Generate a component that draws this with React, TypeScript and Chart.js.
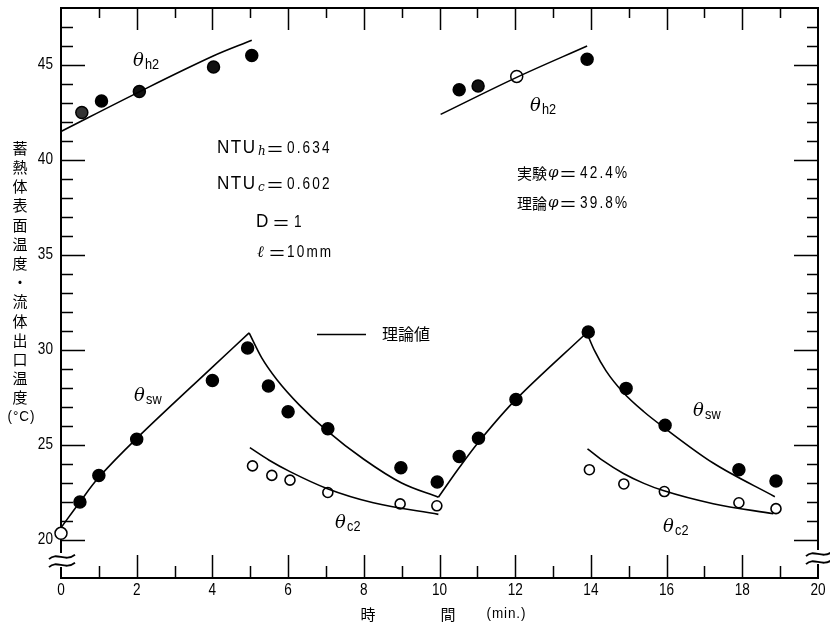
import React, { useEffect, useRef } from "react";
import { Chart, registerables } from "chart.js";

Chart.register(...registerables);

// ---- measured values ----
const swTime = [0, 0.5, 1, 2, 4, 4.93, 5.48, 6.0, 7.05, 8.98, 9.94, 10.52, 11.03, 12.02, 13.93, 14.93, 15.96, 17.91, 18.89];
const swTemp = [20.35, 22.0, 23.4, 25.3, 28.4, 30.1, 28.1, 26.75, 25.85, 23.8, 23.05, 24.4, 25.35, 27.4, 30.95, 27.98, 26.04, 23.7, 23.1];
const swFill = ["#ffffff", "#000", "#000", "#000", "#000", "#000", "#000", "#000", "#000", "#000", "#000", "#000", "#000", "#000", "#000", "#000", "#000", "#000", "#000"];

const c2Time = [5.06, 5.57, 6.05, 7.05, 8.96, 9.93, 13.96, 14.87, 15.94, 17.91, 18.89];
const c2Temp = [23.9, 23.4, 23.15, 22.5, 21.9, 21.8, 23.7, 22.95, 22.55, 21.96, 21.65];

const h2Time = [0.55, 1.07, 2.07, 4.03, 5.04, 10.52, 11.02, 12.04, 13.9];
const h2Temp = [42.5, 43.1, 43.6, 44.9, 45.5, 43.7, 43.9, 44.4, 45.3];
const h2Fill = ["#333", "#000", "#111", "#111", "#000", "#000", "#111", "#ffffff", "#000"];

// ---- theoretical curves (理論値) ----
const swRise1Time = [0, 0.5, 1, 2, 4, 4.97];
const swRise1Temp = [20.65, 22.0, 23.3, 25.35, 29.1, 30.9];
const swDecay1Time = [4.97, 5.3, 5.7, 6.3, 7.0, 8.0, 9.0, 9.97];
const swDecay1Temp = [30.9, 29.6, 28.45, 27.1, 25.8, 24.25, 23.0, 22.25];
const swRise2Time = [9.97, 10.5, 11.03, 12.02, 13.89];
const swRise2Temp = [22.25, 23.75, 25.15, 27.4, 30.91];
const swDecay2Time = [13.89, 14.1, 14.4, 14.86, 15.4, 15.91, 17.23, 18.86];
const swDecay2Temp = [30.91, 29.95, 28.9, 27.75, 26.75, 25.95, 24.05, 22.28];

const c2Decay1Time = [4.99, 5.5, 6.05, 7.04, 8.25, 9.97];
const c2Decay1Temp = [24.86, 24.2, 23.6, 22.7, 21.96, 21.35];
const c2Decay2Time = [13.91, 14.3, 14.86, 15.4, 15.91, 17.23, 18.82];
const c2Decay2Temp = [24.8, 24.2, 23.5, 22.98, 22.6, 21.91, 21.38];

const h2Line1Time = [0, 2.08, 4.02, 5.04];
const h2Line1Temp = [41.5, 43.6, 45.47, 46.3];
const h2Line2Time = [10.03, 12.04, 13.9];
const h2Line2Temp = [42.4, 44.35, 46.0];

// ---- axes ----
const xMin = 0;
const xMax = 20;
const yMin = 18;
const yMax = 48;
const xTickLabels = [0, 2, 4, 6, 8, 10, 12, 14, 16, 18, 20];
const yTickLabels = [20, 25, 30, 35, 40, 45];
const yLabelChars = ["蓄", "熱", "体", "表", "面", "温", "度", "・", "流", "体", "出", "口", "温", "度"];

const SANS = '"Liberation Sans", "DejaVu Sans", sans-serif';
const SERIF_IT = 'italic 18px "DejaVu Serif", "Liberation Serif", serif';
const CJK = '"Noto Sans CJK JP", "Noto Sans CJK SC", sans-serif';

const pts = (xs: number[], ys: number[]) => xs.map((x, i) => ({ x, y: ys[i] }));

// text drawn with horizontal compression (condensed look)
function ctext(
  ctx: CanvasRenderingContext2D,
  s: string,
  x: number,
  y: number,
  font: string,
  align: "left" | "center" | "right" = "left",
  sx = 1,
  spacing = 0
) {
  ctx.save();
  ctx.font = font;
  (ctx as any).letterSpacing = spacing + "px";
  ctx.textAlign = "left";
  ctx.textBaseline = "middle";
  const w = (ctx.measureText(s).width - (spacing > 0 ? spacing : 0)) * sx;
  const x0 = align === "center" ? x - w / 2 : align === "right" ? x - w : x;
  ctx.translate(x0, y);
  ctx.scale(sx, 1);
  ctx.fillText(s, 0, 0);
  ctx.restore();
}

function wave(ctx: CanvasRenderingContext2D, x0: number, y: number, w: number, a: number) {
  ctx.beginPath();
  ctx.moveTo(x0, y + a);
  ctx.bezierCurveTo(x0 + w * 0.3, y - 2.6 * a, x0 + w * 0.6, y + 2.6 * a, x0 + w, y - a);
  ctx.stroke();
}

function theta(ctx: CanvasRenderingContext2D, x: number, y: number, sub: string) {
  ctx.font = SERIF_IT;
  ctx.textAlign = "left";
  ctx.textBaseline = "middle";
  ctx.fillText("θ", x - 1, y);
  ctext(ctx, sub, x + 11, y + 4, "15px " + SANS, "left", 0.85);
}

const framePlugin = {
  id: "frame",
  beforeDatasetsDraw(chart: any) {
    const ctx: CanvasRenderingContext2D = chart.ctx;
    const xs = chart.scales.x;
    const ys = chart.scales.y;
    const { left, right, top, bottom } = chart.chartArea;
    ctx.save();
    ctx.strokeStyle = "#000";
    ctx.lineWidth = 2;
    ctx.strokeRect(left, top, right - left, bottom - top);
    ctx.lineWidth = 1.5;
    ctx.beginPath();
    for (let v = xMin + 1; v < xMax; v++) {
      const px = Math.round(xs.getPixelForValue(v)) + 0.5;
      const major = v % 2 === 0;
      ctx.moveTo(px, bottom);
      ctx.lineTo(px, bottom - (major ? 23 : 12));
      ctx.moveTo(px, top);
      ctx.lineTo(px, top + (major ? 22 : 10));
    }
    for (let v = 20; v < yMax; v++) {
      const py = Math.round(ys.getPixelForValue(v)) + 0.5;
      const major = v % 5 === 0;
      ctx.moveTo(left, py);
      ctx.lineTo(left + (major ? 24 : 12), py);
      ctx.moveTo(right, py);
      ctx.lineTo(right - (major ? 24 : 11), py);
    }
    ctx.stroke();

    // tick labels
    ctx.fillStyle = "#000";
    xTickLabels.forEach((v) =>
      ctext(ctx, String(v), xs.getPixelForValue(v), bottom + 13, "16px " + SANS, "center", 0.85)
    );
    yTickLabels.forEach((v) =>
      ctext(ctx, String(v), left - 8, ys.getPixelForValue(v), "16px " + SANS, "right", 0.85)
    );
    ctx.restore();
  },
  afterDraw(chart: any) {
    const ctx: CanvasRenderingContext2D = chart.ctx;
    const { left, right, bottom } = chart.chartArea;
    ctx.save();
    ctx.strokeStyle = "#000";

    // axis breaks
    ctx.fillStyle = "#fff";
    ctx.fillRect(left - 2, bottom - 25, 4, 14);
    ctx.fillRect(right - 2, bottom - 28, 4, 14);
    ctx.fillStyle = "#000";
    ctx.lineWidth = 1.8;
    wave(ctx, left - 12, bottom - 21, 26, 2.2);
    wave(ctx, left - 12, bottom - 13, 26, 2.2);
    wave(ctx, right - 12, bottom - 24, 26, 2.2);
    wave(ctx, right - 12, bottom - 16, 26, 2.2);

    // series labels
    theta(ctx, 134, 61, "h2");
    theta(ctx, 531, 106, "h2");
    theta(ctx, 135, 396, "sw");
    theta(ctx, 336, 523, "c2");
    theta(ctx, 694, 411, "sw");
    theta(ctx, 664, 527, "c2");

    // parameter block
    ctx.textAlign = "left";
    ctx.textBaseline = "middle";
    const eq = (x: number, y: number) => {
      ctx.font = "18px " + CJK;
      ctx.textAlign = "left";
      ctx.fillText("＝", x, y + 1);
    };
    const num = (s: string, x: number, y: number) => {
      ctext(ctx, s, x, y + 1, "16px " + SANS, "left", 0.85, 2.5);
    };
    ctext(ctx, "NTU", 217, 148, "18px " + SANS, "left", 0.95, 1.5);
    ctext(ctx, "NTU", 217, 184, "18px " + SANS, "left", 0.95, 1.5);
    ctext(ctx, "D", 256, 222, "18px " + SANS, "left", 0.95);
    ctx.font = 'italic 12px "DejaVu Serif", "Liberation Serif", serif';
    ctx.fillText("h", 258, 152);
    ctx.fillText("c", 258, 188);
    eq(266, 148);
    eq(266, 184);
    eq(272, 222);
    eq(268, 252);
    num("0.634", 287, 148);
    num("0.602", 287, 184);
    num("1", 294, 222);
    ctx.font = 'italic 16px "DejaVu Serif", "Liberation Serif", serif';
    ctx.fillText("ℓ", 257, 253);
    num("10mm", 287, 252);

    // φ block
    ctx.font = "15px " + CJK;
    ctx.fillText("実験", 517, 173);
    ctx.fillText("理論", 517, 203);
    ctx.font = 'italic 15px "DejaVu Serif", "Liberation Serif", serif';
    ctx.fillText("φ", 548, 173);
    ctx.fillText("φ", 548, 203);
    eq(559, 173);
    eq(559, 203);
    num("42.4%", 580, 173);
    num("39.8%", 580, 203);

    // legend
    ctx.lineWidth = 1.5;
    ctx.beginPath();
    ctx.moveTo(317, 334.5);
    ctx.lineTo(366, 334.5);
    ctx.stroke();
    ctx.font = "16px " + CJK;
    ctx.textAlign = "left";
    ctx.fillText("理論値", 382, 334);

    // y-axis title (vertical)
    ctx.textAlign = "center";
    ctx.font = "15px " + CJK;
    yLabelChars.forEach((c, i) => ctx.fillText(c, 20, 148 + i * 19.2));
    ctext(ctx, "(°C)", 21, 148 + 14 * 19.2, "15px " + SANS, "center", 0.9, 1);

    // x-axis title
    ctx.font = "15px " + CJK;
    ctx.textAlign = "center";
    ctx.fillText("時", 368, 614);
    ctx.fillText("間", 448, 614);
    ctext(ctx, "(min.)", 506, 614, "15px " + SANS, "center", 0.9, 1);
    ctx.restore();
  },
};

export default function App() {
  const ref = useRef<HTMLCanvasElement | null>(null);
  useEffect(() => {
    if (!ref.current) return;
    const theory = (xs: number[], ys: number[], mono: boolean) => ({
      data: pts(xs, ys),
      showLine: true,
      borderColor: "#000",
      borderWidth: 1.6,
      pointRadius: 0,
      cubicInterpolationMode: mono ? "monotone" : "default",
      tension: 0.35,
      clip: false,
    });
    const chart = new Chart(ref.current, {
      type: "scatter",
      data: {
        datasets: [
          theory(swRise1Time, swRise1Temp, false),
          theory(swDecay1Time, swDecay1Temp, true),
          theory(swRise2Time, swRise2Temp, false),
          theory(swDecay2Time, swDecay2Temp, true),
          theory(c2Decay1Time, c2Decay1Temp, true),
          theory(c2Decay2Time, c2Decay2Temp, true),
          theory(h2Line1Time, h2Line1Temp, false),
          theory(h2Line2Time, h2Line2Temp, false),
          {
            data: pts(swTime, swTemp),
            pointRadius: 6,
            pointBackgroundColor: swFill,
            pointBorderColor: "#000",
            pointBorderWidth: 1.5,
            clip: false,
          },
          {
            data: pts(h2Time, h2Temp),
            pointRadius: 6,
            pointBackgroundColor: h2Fill,
            pointBorderColor: "#000",
            pointBorderWidth: 1.5,
            clip: false,
          },
          {
            data: pts(c2Time, c2Temp),
            pointRadius: 5,
            pointBackgroundColor: "#fff",
            pointBorderColor: "#000",
            pointBorderWidth: 1.6,
            clip: false,
          },
        ] as any,
      },
      options: {
        animation: false,
        responsive: false,
        maintainAspectRatio: false,
        layout: { padding: { left: 61, top: 8, right: 12, bottom: 49 } },
        plugins: { legend: { display: false }, tooltip: { enabled: false } },
        scales: {
          x: { type: "linear", min: xMin, max: xMax, display: false },
          y: { type: "linear", min: yMin, max: yMax, display: false },
        },
      },
      plugins: [framePlugin],
    });
    return () => chart.destroy();
  }, []);
  return (
    <div style={{ position: "absolute", left: 0, top: 0, width: 830, height: 627, background: "#fff" }}>
      <canvas ref={ref} width={830} height={627} style={{ width: 830, height: 627, display: "block" }} />
    </div>
  );
}
